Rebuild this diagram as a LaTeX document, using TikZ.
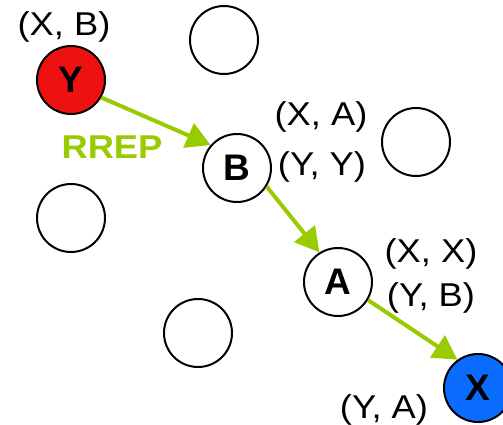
\documentclass[tikz,border=0pt]{standalone}
\usepackage{fontspec}
\setmainfont{Liberation Sans}
\usetikzlibrary{arrows.meta}
\definecolor{rrepgreen}{HTML}{99CC00}
\definecolor{nodered}{HTML}{EE1111}
\definecolor{nodeblue}{HTML}{0A6CFF}
\tikzset{
  host/.style={circle, draw=black, line width=2pt, minimum size=68pt, inner sep=0pt,
    font=\fontsize{37}{42}\selectfont\bfseries},
  lbl/.style={anchor=base, inner sep=0pt, font=\fontsize{33}{38}\selectfont},
  rrep/.style={draw=rrepgreen, line width=4pt, -{Triangle[length=24pt,width=26pt]}},
}
\newcommand{\wide}[1]{\scalebox{1.1}[1]{#1}}
\begin{document}
\begin{tikzpicture}[x=1pt, y=-1pt]
\useasboundingbox (0,0) rectangle (503,425);
% hosts
\node[host, fill=nodered] (Y) at (71,80) {Y};
\node[host] (n1) at (224,40) {};
\node[host] (B) at (237,168) {B};
\node[host] (n2) at (416,142) {};
\node[host] (n3) at (71,218) {};
\node[host] (A) at (338,282) {A};
\node[host] (n4) at (198,333) {};
\node[host, fill=nodeblue] (X) at (478,388) {X};
% labels
\node[lbl] (lY) at (64,36) {\wide{(X, B)}};
\node[lbl] (lB1) at (321,126) {\wide{(X, A)}};
\node[lbl] (lB2) at (322,175) {\wide{(Y, Y)}};
\node[lbl] (lA1) at (431,262) {\wide{(X, X)}};
\node[lbl] (lA2) at (431,306) {\wide{(Y, B)}};
\node[lbl] (lX) at (384,418) {\wide{(Y, A)}};
\node[lbl, text=rrepgreen, font=\fontsize{33}{38}\selectfont\bfseries] (rr) at (112,158) {\wide{RREP}};
% connectors
\draw[rrep] (Y.-30) -- (B.139);
\draw[rrep] (B.-32) -- (A.122);
\draw[rrep] (A.-31) -- (X.126);
\end{tikzpicture}
\end{document}
